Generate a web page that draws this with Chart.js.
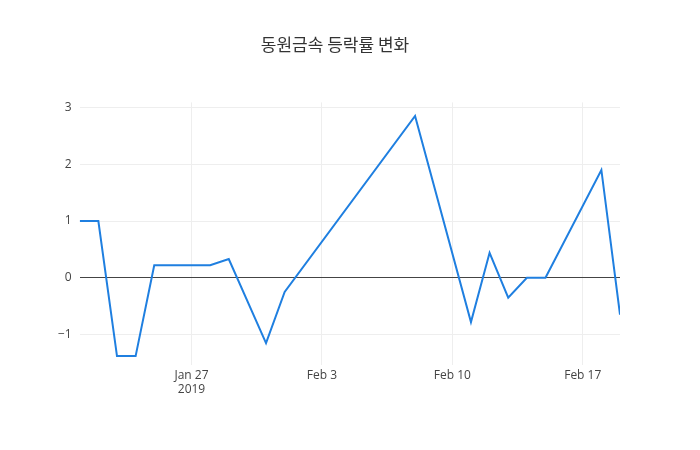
<!DOCTYPE html>
<html><head><meta charset="utf-8">
<script src="https://cdn.jsdelivr.net/npm/chart.js@4"></script>
<style>body{margin:0;background:#fff}#w{width:700px;height:450px}</style></head>
<body><div id="w"><canvas id="c"></canvas></div>
<script>
// day offsets from 2019-01-21
const days = [0,1,2,3,4,5,6,7,8,10,11,18,21,22,23,24,25,28,29];
const values = [1.0,1.0,-1.38,-1.38,0.22,0.22,0.22,0.22,0.33,-1.15,-0.25,2.85,-0.78,0.44,-0.35,0,0,1.9,-0.65];
const tickDays = [6,13,20,27];
const tickLabels = [["Jan 27","2019"],"Feb 3","Feb 10","Feb 17"];
const yTicks = [-1,0,1,2,3];
const F = "'Open Sans', sans-serif";
new Chart(document.getElementById('c'), {
  type: 'line',
  data: { datasets: [{ data: days.map((d,i)=>({x:d,y:values[i]})), borderColor:'#1f7fe0', borderWidth:2, pointRadius:0, tension:0 }] },
  options: {
    responsive:true, maintainAspectRatio:false, animation:false,
    layout:{padding:{left:50,right:80,top:10,bottom:50}},
    plugins:{legend:{display:false},tooltip:{enabled:false},
      title:{display:true,text:'동원금속 등락률 변화',color:'#333',font:{family:"'Noto Sans CJK KR'",size:17,weight:'normal'},padding:{top:24,bottom:48}}},
    scales:{
      x:{type:'linear',min:0,max:29,
        afterBuildTicks:a=>{a.ticks=tickDays.map(v=>({value:v}));},
        ticks:{callback:(v)=>tickLabels[tickDays.indexOf(v)],color:'#444',font:{family:F,size:12},maxRotation:0},
        grid:{color:'#eee',drawTicks:false},border:{display:false}},
      y:{min:-1.54,max:3.09,
        afterBuildTicks:a=>{a.ticks=yTicks.map(v=>({value:v}));},
        ticks:{callback:v=>v<0?'−'+Math.abs(v):String(v),color:'#444',font:{family:F,size:12},padding:8},
        grid:{color:c=>c.tick&&c.tick.value===0?'#444':'#eee',drawTicks:false},border:{display:false}}
    }
  }
});
</script></body></html>
